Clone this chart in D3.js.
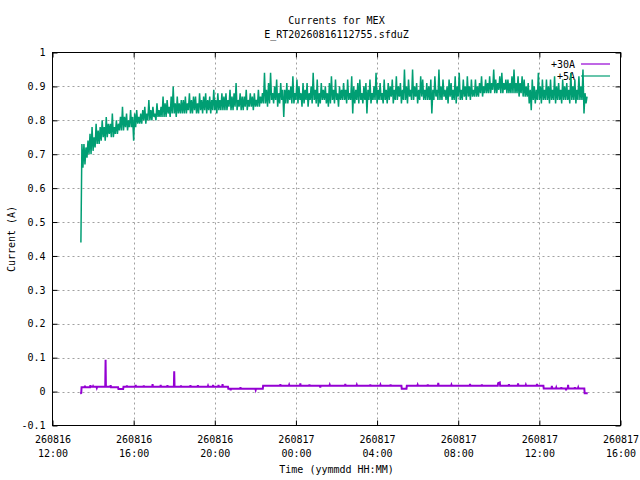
<!DOCTYPE html>
<html>
<head>
<meta charset="utf-8">
<script src="https://cdn.jsdelivr.net/npm/d3@7"></script>
<style>
  body { margin: 0; background: #fff; }
  text { font-family: "DejaVu Sans Mono", "Liberation Mono", monospace; font-size: 10px; fill: #000; }
</style>
</head>
<body>
<svg id="chart" width="640" height="480"></svg>
<script>
// ---- data ----
const titleLines = ["Currents for MEX", "E_RT20260816112755.sfduZ"];
const seriesNames = ["+30A", "+5A"];
const yTicks = [-0.1, 0, 0.1, 0.2, 0.3, 0.4, 0.5, 0.6, 0.7, 0.8, 0.9, 1];
const xTickTimes = ["260816 12:00", "260816 16:00", "260816 20:00", "260817 00:00",
                    "260817 04:00", "260817 08:00", "260817 12:00", "260817 16:00"];

// +30A: [time, current]
const readings30A = [
  ["260816 13:22", -0.006], ["260816 13:25", -0.004], ["260816 13:26", 0.013],
  ["260816 13:35", 0.013], ["260816 13:36", 0.017], ["260816 13:37", 0.013],
  ["260816 13:51", 0.013], ["260816 13:52", 0.019], ["260816 13:53", 0.014],
  ["260816 13:59", 0.014], ["260816 14:00", 0.016], ["260816 14:01", 0.014],
  ["260816 14:10", 0.014], ["260816 14:11", 0.011], ["260816 14:12", 0.014],
  ["260816 14:36", 0.014], ["260816 14:37", 0.094], ["260816 14:38", 0.014],
  ["260816 14:51", 0.014], ["260816 14:52", 0.019], ["260816 14:53", 0.013],
  ["260816 15:14", 0.013], ["260816 15:15", 0.008], ["260816 15:29", 0.008],
  ["260816 15:30", 0.014], ["260816 15:39", 0.014], ["260816 15:40", 0.018],
  ["260816 15:41", 0.014], ["260816 16:05", 0.014], ["260816 16:06", 0.020],
  ["260816 16:07", 0.014], ["260816 16:29", 0.014], ["260816 16:30", 0.018],
  ["260816 16:31", 0.014], ["260816 16:55", 0.014], ["260816 16:56", 0.022],
  ["260816 16:57", 0.014], ["260816 17:19", 0.014], ["260816 17:20", 0.020],
  ["260816 17:21", 0.014], ["260816 17:39", 0.014], ["260816 17:40", 0.019],
  ["260816 17:41", 0.014], ["260816 17:59", 0.014], ["260816 18:00", 0.060],
  ["260816 18:01", 0.014], ["260816 18:19", 0.014], ["260816 18:20", 0.018],
  ["260816 18:21", 0.014], ["260816 18:47", 0.014], ["260816 18:48", 0.019],
  ["260816 18:49", 0.014], ["260816 19:09", 0.014], ["260816 19:10", 0.019],
  ["260816 19:11", 0.014], ["260816 19:39", 0.014], ["260816 19:40", 0.017],
  ["260816 19:41", 0.014], ["260816 19:54", 0.014], ["260816 19:55", 0.020],
  ["260816 19:56", 0.014], ["260816 20:10", 0.014], ["260816 20:11", 0.020],
  ["260816 20:12", 0.014], ["260816 20:22", 0.014], ["260816 20:23", 0.022],
  ["260816 20:24", 0.014], ["260816 20:39", 0.014], ["260816 20:40", 0.0085],
  ["260816 20:46", 0.0085], ["260816 20:47", 0.004], ["260816 20:48", 0.0085],
  ["260816 21:15", 0.0085], ["260816 21:16", 0.013], ["260816 21:17", 0.0085],
  ["260816 22:00", 0.0085], ["260816 22:01", 0.005], ["260816 22:02", 0.0085],
  ["260816 22:22", 0.0085], ["260816 22:23", 0.017], ["260816 23:13", 0.017],
  ["260816 23:14", 0.022], ["260816 23:15", 0.017], ["260816 23:39", 0.017],
  ["260816 23:40", 0.020], ["260816 23:41", 0.017], ["260817 00:12", 0.017],
  ["260817 00:13", 0.024], ["260817 00:14", 0.017], ["260817 00:39", 0.017],
  ["260817 00:40", 0.021], ["260817 00:41", 0.017], ["260817 01:11", 0.017],
  ["260817 01:12", 0.012], ["260817 01:13", 0.017], ["260817 01:39", 0.017],
  ["260817 01:40", 0.020], ["260817 01:41", 0.017], ["260817 02:25", 0.017],
  ["260817 02:26", 0.023], ["260817 02:27", 0.017], ["260817 02:59", 0.017],
  ["260817 03:00", 0.020], ["260817 03:01", 0.017], ["260817 03:39", 0.017],
  ["260817 03:40", 0.021], ["260817 03:41", 0.017], ["260817 04:09", 0.017],
  ["260817 04:10", 0.020], ["260817 04:11", 0.017], ["260817 04:39", 0.017],
  ["260817 04:40", 0.021], ["260817 04:41", 0.017], ["260817 05:12", 0.017],
  ["260817 05:13", 0.0085], ["260817 05:27", 0.0085], ["260817 05:28", 0.017],
  ["260817 05:59", 0.017], ["260817 06:00", 0.020], ["260817 06:01", 0.017],
  ["260817 06:29", 0.017], ["260817 06:30", 0.021], ["260817 06:31", 0.017],
  ["260817 07:00", 0.017], ["260817 07:01", 0.026], ["260817 07:02", 0.017],
  ["260817 07:39", 0.017], ["260817 07:40", 0.020], ["260817 07:41", 0.017],
  ["260817 08:34", 0.017], ["260817 08:35", 0.023], ["260817 08:36", 0.017],
  ["260817 09:09", 0.017], ["260817 09:10", 0.021], ["260817 09:11", 0.017],
  ["260817 09:57", 0.017], ["260817 09:58", 0.025], ["260817 10:03", 0.027],
  ["260817 10:04", 0.017], ["260817 10:29", 0.017], ["260817 10:30", 0.022],
  ["260817 10:31", 0.017], ["260817 10:56", 0.017], ["260817 10:57", 0.024],
  ["260817 10:58", 0.017], ["260817 11:19", 0.017], ["260817 11:20", 0.020],
  ["260817 11:21", 0.017], ["260817 11:52", 0.017], ["260817 11:53", 0.023],
  ["260817 11:54", 0.017], ["260817 12:12", 0.017], ["260817 12:13", 0.009],
  ["260817 12:36", 0.009], ["260817 12:37", 0.017], ["260817 12:38", 0.009],
  ["260817 12:49", 0.009], ["260817 12:50", 0.012], ["260817 12:51", 0.009],
  ["260817 13:04", 0.009], ["260817 13:05", 0.013], ["260817 13:06", 0.009],
  ["260817 13:18", 0.009], ["260817 13:19", 0.004], ["260817 13:20", 0.009],
  ["260817 13:24", 0.009], ["260817 13:25", 0.020], ["260817 13:26", 0.009],
  ["260817 13:44", 0.009], ["260817 13:45", 0.013], ["260817 13:46", 0.009],
  ["260817 13:54", 0.009], ["260817 13:55", 0.012], ["260817 13:56", 0.009],
  ["260817 14:13", 0.009], ["260817 14:14", -0.005], ["260817 14:23", -0.005]
];

// +5A: lowest and highest reading in each 6-minute interval from 260816 13:24
// (one row = one hour)
const start5A = "260816 13:24";
const stepMinutes5A = 6;
const min5A = [
  0.44, 0.66, 0.67, 0.69, 0.70, 0.70, 0.71, 0.72, 0.73, 0.73,
  0.74, 0.75, 0.74, 0.75, 0.76, 0.75, 0.75, 0.76, 0.76, 0.77,
  0.77, 0.77, 0.78, 0.77, 0.78, 0.78, 0.74, 0.78, 0.79, 0.79,
  0.79, 0.80, 0.79, 0.80, 0.80, 0.80, 0.81, 0.80, 0.81, 0.81,
  0.81, 0.81, 0.81, 0.82, 0.81, 0.82, 0.82, 0.81, 0.82, 0.82,
  0.82, 0.82, 0.82, 0.83, 0.82, 0.82, 0.83, 0.82, 0.82, 0.83,
  0.82, 0.83, 0.82, 0.83, 0.82, 0.83, 0.83, 0.82, 0.83, 0.83,
  0.83, 0.83, 0.83, 0.84, 0.83, 0.83, 0.84, 0.83, 0.84, 0.83,
  0.83, 0.84, 0.83, 0.84, 0.84, 0.83, 0.84, 0.84, 0.84, 0.85,
  0.85, 0.85, 0.84, 0.85, 0.86, 0.85, 0.86, 0.84, 0.85, 0.86,
  0.81, 0.85, 0.85, 0.86, 0.85, 0.85, 0.86, 0.85, 0.86, 0.84,
  0.85, 0.86, 0.84, 0.86, 0.85, 0.86, 0.85, 0.84, 0.85, 0.86,
  0.86, 0.85, 0.84, 0.85, 0.86, 0.85, 0.86, 0.84, 0.86, 0.86,
  0.86, 0.85, 0.86, 0.86, 0.82, 0.85, 0.86, 0.85, 0.86, 0.85,
  0.86, 0.82, 0.86, 0.85, 0.86, 0.86, 0.85, 0.86, 0.86, 0.85,
  0.86, 0.85, 0.86, 0.87, 0.85, 0.86, 0.86, 0.87, 0.85, 0.86,
  0.86, 0.85, 0.87, 0.86, 0.86, 0.87, 0.85, 0.86, 0.87, 0.86,
  0.86, 0.86, 0.86, 0.82, 0.86, 0.87, 0.86, 0.86, 0.86, 0.87,
  0.86, 0.85, 0.87, 0.86, 0.86, 0.85, 0.87, 0.86, 0.86, 0.87,
  0.86, 0.87, 0.86, 0.87, 0.87, 0.87, 0.87, 0.88, 0.87, 0.88,
  0.88, 0.88, 0.88, 0.89, 0.88, 0.88, 0.89, 0.88, 0.88, 0.89,
  0.88, 0.88, 0.88, 0.88, 0.88, 0.88, 0.87, 0.88, 0.87, 0.87,
  0.87, 0.85, 0.83, 0.86, 0.85, 0.86, 0.86, 0.85, 0.86, 0.86,
  0.86, 0.85, 0.86, 0.86, 0.85, 0.86, 0.86, 0.85, 0.86, 0.86,
  0.86, 0.85, 0.86, 0.86, 0.85, 0.86, 0.86, 0.86, 0.82, 0.85
];
const max5A = [
  0.73, 0.73, 0.72, 0.74, 0.76, 0.78, 0.75, 0.79, 0.77, 0.78,
  0.80, 0.78, 0.81, 0.79, 0.79, 0.82, 0.78, 0.80, 0.79, 0.81,
  0.84, 0.81, 0.82, 0.80, 0.83, 0.81, 0.82, 0.83, 0.81, 0.82,
  0.83, 0.84, 0.82, 0.86, 0.83, 0.84, 0.82, 0.85, 0.83, 0.84,
  0.87, 0.85, 0.86, 0.84, 0.87, 0.90, 0.85, 0.87, 0.85, 0.86,
  0.86, 0.87, 0.85, 0.88, 0.86, 0.87, 0.87, 0.85, 0.88, 0.86,
  0.87, 0.88, 0.86, 0.87, 0.86, 0.89, 0.86, 0.88, 0.86, 0.88,
  0.87, 0.88, 0.86, 0.89, 0.87, 0.88, 0.91, 0.86, 0.88, 0.87,
  0.87, 0.89, 0.86, 0.88, 0.87, 0.88, 0.86, 0.89, 0.87, 0.88,
  0.94, 0.89, 0.91, 0.94, 0.88, 0.90, 0.92, 0.88, 0.91, 0.89,
  0.89, 0.91, 0.89, 0.90, 0.93, 0.88, 0.92, 0.90, 0.88, 0.91,
  0.89, 0.91, 0.88, 0.90, 0.94, 0.89, 0.92, 0.88, 0.91, 0.89,
  0.90, 0.88, 0.91, 0.93, 0.89, 0.92, 0.88, 0.90, 0.89, 0.91,
  0.89, 0.92, 0.88, 0.93, 0.90, 0.89, 0.91, 0.92, 0.88, 0.90,
  0.91, 0.89, 0.92, 0.88, 0.90, 0.94, 0.89, 0.91, 0.88, 0.92,
  0.89, 0.91, 0.90, 0.92, 0.89, 0.93, 0.90, 0.91, 0.89, 0.95,
  0.90, 0.92, 0.89, 0.95, 0.90, 0.91, 0.89, 0.93, 0.92, 0.89,
  0.91, 0.90, 0.92, 0.89, 0.93, 0.89, 0.95, 0.90, 0.92, 0.89,
  0.90, 0.92, 0.91, 0.89, 0.93, 0.90, 0.94, 0.89, 0.92, 0.90,
  0.93, 0.90, 0.92, 0.89, 0.92, 0.90, 0.91, 0.93, 0.90, 0.92,
  0.91, 0.93, 0.91, 0.95, 0.92, 0.91, 0.93, 0.94, 0.91, 0.92,
  0.92, 0.91, 0.93, 0.95, 0.91, 0.93, 0.91, 0.93, 0.92, 0.90,
  0.91, 0.89, 0.92, 0.90, 0.89, 0.94, 0.90, 0.92, 0.89, 0.92,
  0.90, 0.92, 0.89, 0.93, 0.90, 0.91, 0.89, 0.92, 0.90, 0.91,
  0.89, 0.94, 0.90, 0.92, 0.89, 0.93, 0.90, 0.95, 0.88, 0.87
];

const colors = ["#9400d3", "#009e73"];

// ---- layout ----
const width = 640, height = 480;
const plot = { left: 52.5, right: 620.5, top: 52.5, bottom: 425.5 };

const parseTime = d3.timeParse("%y%m%d %H:%M");
const xTicks = xTickTimes.map(parseTime);

const x = d3.scaleTime()
  .domain([xTicks[0], xTicks[xTicks.length - 1]])
  .range([plot.left, plot.right]);
const y = d3.scaleLinear()
  .domain([yTicks[0], yTicks[yTicks.length - 1]])
  .range([plot.bottom, plot.top]);

const svg = d3.select("#chart");

// grid
const grid = svg.append("g")
  .attr("stroke", "#a0a0a0")
  .attr("stroke-width", 1)
  .attr("stroke-dasharray", "2,3");
grid.selectAll("line.gy")
  .data(yTicks.slice(1, -1))
  .enter().append("line")
  .attr("x1", plot.left).attr("x2", plot.right)
  .attr("y1", d => Math.round(y(d)) + 0.5).attr("y2", d => Math.round(y(d)) + 0.5);
grid.selectAll("line.gx")
  .data(xTicks.slice(1, -1))
  .enter().append("line")
  .attr("x1", d => Math.round(x(d)) + 0.5).attr("x2", d => Math.round(x(d)) + 0.5)
  .attr("y1", plot.top).attr("y2", plot.bottom);

// axes (gnuplot style: ticks inside, mirrored)
const yFmt = d => String(+d.toFixed(1));
svg.append("g")
  .attr("transform", `translate(${plot.left},0)`)
  .call(d3.axisLeft(y).tickValues(yTicks).tickSize(-5).tickPadding(7).tickFormat(yFmt))
  .call(g => g.select(".domain").remove())
  .call(g => g.selectAll("text").attr("font-family", null).attr("font-size", null));
svg.append("g")
  .attr("transform", `translate(${plot.right},0)`)
  .call(d3.axisRight(y).tickValues(yTicks).tickSize(-5).tickFormat(""))
  .call(g => g.select(".domain").remove());

const bottomAxis = svg.append("g")
  .attr("transform", `translate(0,${plot.bottom})`)
  .call(d3.axisBottom(x).tickValues(xTicks).tickSize(-5).tickFormat(""))
  .call(g => g.select(".domain").remove());
bottomAxis.selectAll(".tick text").remove();
bottomAxis.selectAll(".tick").each(function(d) {
  const t = d3.select(this);
  t.append("text").attr("text-anchor", "middle").attr("y", 17.5).text(d3.timeFormat("%y%m%d")(d));
  t.append("text").attr("text-anchor", "middle").attr("y", 31).text(d3.timeFormat("%H:%M")(d));
});
svg.append("g")
  .attr("transform", `translate(0,${plot.top})`)
  .call(d3.axisTop(x).tickValues(xTicks).tickSize(-5).tickFormat(""))
  .call(g => g.select(".domain").remove());

// titles and axis labels
svg.append("text")
  .attr("x", (plot.left + plot.right) / 2).attr("y", 24)
  .attr("text-anchor", "middle").text(titleLines[0]);
svg.append("text")
  .attr("x", (plot.left + plot.right) / 2).attr("y", 38)
  .attr("text-anchor", "middle").text(titleLines[1]);
svg.append("text")
  .attr("x", (plot.left + plot.right) / 2).attr("y", 473)
  .attr("text-anchor", "middle").text("Time (yymmdd HH:MM)");
svg.append("text")
  .attr("transform", `translate(15,${(plot.top + plot.bottom) / 2}) rotate(-90)`)
  .attr("text-anchor", "middle").text("Current (A)");

// legend
seriesNames.forEach((name, i) => {
  const ly = 64 + i * 12;
  svg.append("text").attr("x", 575).attr("y", ly + 3.5).attr("text-anchor", "end").text(name);
  svg.append("line")
    .attr("x1", 581).attr("x2", 610).attr("y1", ly).attr("y2", ly)
    .attr("stroke", colors[i]).attr("stroke-width", 1.2);
});

// data
svg.append("clipPath").attr("id", "clip")
  .append("rect")
  .attr("x", plot.left).attr("y", plot.top)
  .attr("width", plot.right - plot.left).attr("height", plot.bottom - plot.top);

const line = d3.line().x(d => x(d.t)).y(d => y(d.v));

const data30A = readings30A.map(([t, v]) => ({ t: parseTime(t), v }));

// each interval: its low reading at the start, its high reading half way
const t5 = parseTime(start5A);
const data5A = [];
min5A.forEach((lo, i) => {
  const t = d3.timeMinute.offset(t5, i * stepMinutes5A);
  data5A.push({ t, v: lo });
  data5A.push({ t: d3.timeMinute.offset(t, stepMinutes5A / 2), v: max5A[i] });
});

const plots = svg.append("g").attr("clip-path", "url(#clip)").attr("fill", "none");
plots.append("path").datum(data30A)
  .attr("d", line).attr("stroke", colors[0]).attr("stroke-width", 2);
plots.append("path").datum(data5A)
  .attr("d", line).attr("stroke", colors[1]).attr("stroke-width", 1.5);

// border
svg.append("rect")
  .attr("x", plot.left).attr("y", plot.top)
  .attr("width", plot.right - plot.left).attr("height", plot.bottom - plot.top)
  .attr("fill", "none").attr("stroke", "#000").attr("stroke-width", 1);
</script>
</body>
</html>
